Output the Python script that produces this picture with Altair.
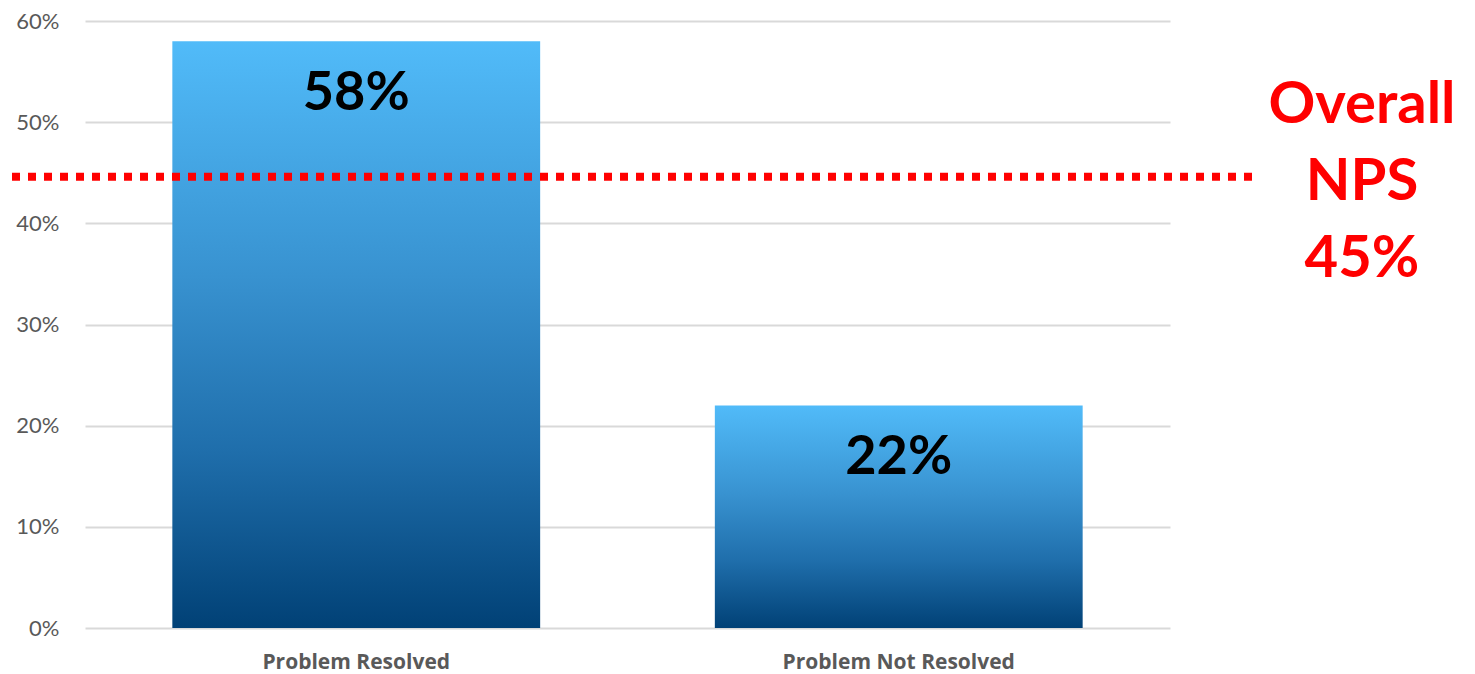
import altair as alt
import pandas as pd

categories = ["Problem Resolved", "Problem Not Resolved"]
values = [0.58, 0.22]
value_labels = ["58%", "22%"]
overall_nps = 0.446
overall_label = ["Overall", "NPS", "45%"]

df = pd.DataFrame({"cat": categories, "val": values, "lbl": value_labels})

gradient = alt.Gradient(
    gradient="linear",
    x1=0, y1=0, x2=0, y2=1,
    stops=[
        alt.GradientStop(color="#51BBF9", offset=0),
        alt.GradientStop(color="#3892D0", offset=0.4),
        alt.GradientStop(color="#1F6EAB", offset=0.7),
        alt.GradientStop(color="#014176", offset=1),
    ],
)

x_enc = alt.X(
    "cat:N",
    sort=categories,
    scale=alt.Scale(paddingInner=0.322, paddingOuter=0.161),
    axis=alt.Axis(
        title=None, labelAngle=0, domain=False, ticks=False, grid=False,
        labelFont="Open Sans", labelFontSize=21, labelFontWeight="bold",
        labelColor="#595959", labelPadding=23, labelLimit=500,
    ),
)
y_enc = alt.Y(
    "val:Q",
    scale=alt.Scale(domain=[0, 0.6], nice=False),
    axis=alt.Axis(
        title=None, format=".0%", values=[0, 0.1, 0.2, 0.3, 0.4, 0.5, 0.6],
        domain=False, ticks=False, grid=True, gridColor="#D9D9D9", gridWidth=2,
        labelFont="Lato", labelFontSize=22, labelColor="#595959", labelPadding=26,
    ),
)

base = alt.Chart(df)

bars = base.mark_bar(color=gradient).encode(x=x_enc, y=y_enc)

labels = base.mark_text(
    font="Lato", fontSize=54, fontWeight="bold", color="black",
    baseline="alphabetic", align="center", dy=69,
).encode(x=alt.X("cat:N", sort=categories), y="val:Q", text="lbl:N")

nps_df = pd.DataFrame({"nps": [overall_nps]})
rule = alt.Chart(nps_df).mark_rule(
    color="#FF0000", strokeWidth=8, strokeDash=[8, 8]
).encode(y="nps:Q", x=alt.value(-73), x2=alt.value(1170))

nps_text = alt.Chart(nps_df).mark_text(
    font="Lato", fontSize=58, fontWeight="bold", color="#FF0000",
    align="center", baseline="middle", lineHeight=77, dy=-71,
).encode(y="nps:Q", x=alt.value(1277), text=alt.value(overall_label))

chart = (
    alt.layer(bars, labels, rule, nps_text)
    .properties(
        width=1085, height=607,
        autosize=alt.AutoSizeParams(type="none"),
        padding={"left": 77, "top": 13, "right": 290, "bottom": 55},
        background="white",
    )
    .configure_view(stroke=None, strokeWidth=0)
)

chart.save("out.html", embed_options={"renderer": "svg", "actions": False})
